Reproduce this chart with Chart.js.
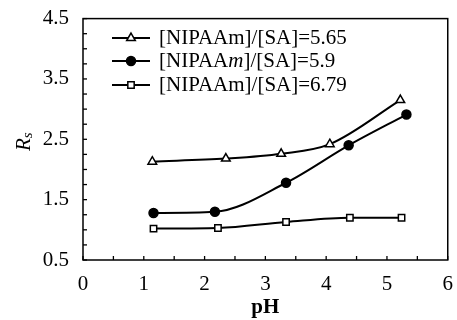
<!DOCTYPE html>
<html>
<head>
<meta charset="utf-8">
<script src="https://cdn.jsdelivr.net/npm/chart.js@4/dist/chart.umd.min.js"></script>
<style>
  html, body { margin: 0; padding: 0; background: #fff; }
  #wrap { width: 457px; height: 320px; }
</style>
</head>
<body>
<div id="wrap"><canvas id="myChart" width="457" height="320"></canvas></div>
<script>
// values
const seriesNames = ['[NIPAAm]/[SA]=5.65', '[NIPAAm]/[SA]=5.9', '[NIPAAm]/[SA]=6.79'];
const triX = [1.14, 2.35, 3.26, 4.06, 5.22];
const triY = [2.13, 2.18, 2.26, 2.42, 3.15];
const circX = [1.16, 2.17, 3.34, 4.37, 5.32];
const circY = [1.28, 1.30, 1.78, 2.40, 2.91];
const sqX = [1.16, 2.22, 3.34, 4.39, 5.24];
const sqY = [1.02, 1.03, 1.13, 1.20, 1.20];
const xTickLabels = [0, 1, 2, 3, 4, 5, 6];
const yTickLabels = [0.5, 1.5, 2.5, 3.5, 4.5];

const serif = "'Liberation Serif', 'DejaVu Serif', serif";

function pts(xs, ys) {
    return xs.map((x, i) => ({x: x, y: ys[i]}));
}

function makeSet(label, xs, ys, style, fill) {
    return {
        label: label,
        data: pts(xs, ys),
        showLine: true,
        cubicInterpolationMode: 'monotone',
        borderColor: '#000',
        borderWidth: 2,
        pointStyle: style,
        pointRadius: style === 'triangle' ? 5 : 4.5,
        pointBorderWidth: 1.5,
        pointBorderColor: '#000',
        pointBackgroundColor: fill
    };
}

// frame + inward tick marks
const frame = {
    id: 'frame',
    afterDraw(chart) {
        const ctx = chart.ctx;
        const a = chart.chartArea;
        const xs = chart.scales.x, ys = chart.scales.y;
        ctx.save();
        ctx.strokeStyle = '#000';
        ctx.lineWidth = 1.5;
        ctx.strokeRect(a.left, a.top, a.right - a.left, a.bottom - a.top);
        ctx.lineWidth = 1.3;
        xs.ticks.forEach(t => {
            const px = xs.getPixelForValue(t.value);
            ctx.beginPath();
            ctx.moveTo(px, a.bottom);
            ctx.lineTo(px, a.bottom - 4);
            ctx.stroke();
        });
        ys.ticks.forEach(t => {
            const py = ys.getPixelForValue(t.value);
            ctx.beginPath();
            ctx.moveTo(a.left, py);
            ctx.lineTo(a.left + 4, py);
            ctx.stroke();
        });

        // y axis title R_s
        ctx.fillStyle = '#000';
        ctx.translate(24, 141);
        ctx.rotate(-Math.PI / 2);
        ctx.textBaseline = 'middle';
        ctx.textAlign = 'left';
        ctx.font = 'italic 21px ' + serif;
        const rw = ctx.measureText('R').width;
        ctx.fillText('R', -10, 0);
        ctx.font = 'italic 15px ' + serif;
        ctx.fillText('s', -10 + rw, 4);
        ctx.restore();
    }
};

// legend inside the plot area
const insideLegend = {
    id: 'insideLegend',
    afterDraw(chart) {
        const ctx = chart.ctx;
        const rows = [38, 61, 85];
        ctx.save();
        chart.data.datasets.forEach((ds, i) => {
            const y = rows[i];
            ctx.strokeStyle = '#000';
            ctx.lineWidth = 2;
            ctx.beginPath();
            ctx.moveTo(112, y);
            ctx.lineTo(150, y);
            ctx.stroke();
            ctx.fillStyle = ds.pointBackgroundColor;
            ctx.lineWidth = 1.5;
            Chart.helpers.drawPoint(ctx, {pointStyle: ds.pointStyle, radius: ds.pointRadius, borderWidth: 1.5, rotation: 0}, 131, y);
            ctx.fillStyle = '#000';
            ctx.textBaseline = 'middle';
            ctx.textAlign = 'left';
            const label = ds.label;
            if (i === 1) {
                // the second label has an italic m
                const parts = [['[NIPAA', ''], ['m', 'italic '], [label.slice(7), '']];
                let x = 159;
                parts.forEach(p => {
                    ctx.font = p[1] + '21px ' + serif;
                    ctx.fillText(p[0], x, y);
                    x += ctx.measureText(p[0]).width;
                });
            } else {
                ctx.font = '21px ' + serif;
                ctx.fillText(label, 159, y);
            }
        });
        ctx.restore();
    }
};

const ctx = document.getElementById('myChart');
new Chart(ctx, {
    type: 'scatter',
    data: {
        datasets: [
            makeSet(seriesNames[0], triX, triY, 'triangle', '#fff'),
            makeSet(seriesNames[1], circX, circY, 'circle', '#000'),
            makeSet(seriesNames[2], sqX, sqY, 'rect', '#fff')
        ]
    },
    options: {
        responsive: false,
        animation: false,
        layout: { padding: { top: 14, right: 6, left: 0, bottom: 0 } },
        plugins: {
            legend: { display: false },
            tooltip: { enabled: false }
        },
        scales: {
            x: {
                type: 'linear',
                min: 0, max: 6,
                afterFit: s => { s.height = 60; },
                grid: { display: false },
                border: { display: false },
                ticks: {
                    stepSize: 0.5,
                    autoSkip: false,
                    maxRotation: 0,
                    padding: 4,
                    color: '#000',
                    font: { family: serif, size: 21 },
                    callback: v => xTickLabels.includes(v) ? String(v) : ''
                },
                title: {
                    display: true,
                    text: 'pH',
                    color: '#000',
                    font: { family: serif, size: 21, weight: 'bold' },
                    padding: { top: 2, bottom: 0 }
                }
            },
            y: {
                type: 'linear',
                min: 0.5, max: 4.5,
                afterFit: s => { s.width = 83; },
                grid: { display: false },
                border: { display: false },
                ticks: {
                    stepSize: 0.25,
                    autoSkip: false,
                    padding: 6,
                    color: '#000',
                    font: { family: serif, size: 21 },
                    callback: v => yTickLabels.includes(v) ? v.toFixed(1) : ''
                }
            }
        }
    },
    plugins: [frame, insideLegend]
});
</script>
</body>
</html>
